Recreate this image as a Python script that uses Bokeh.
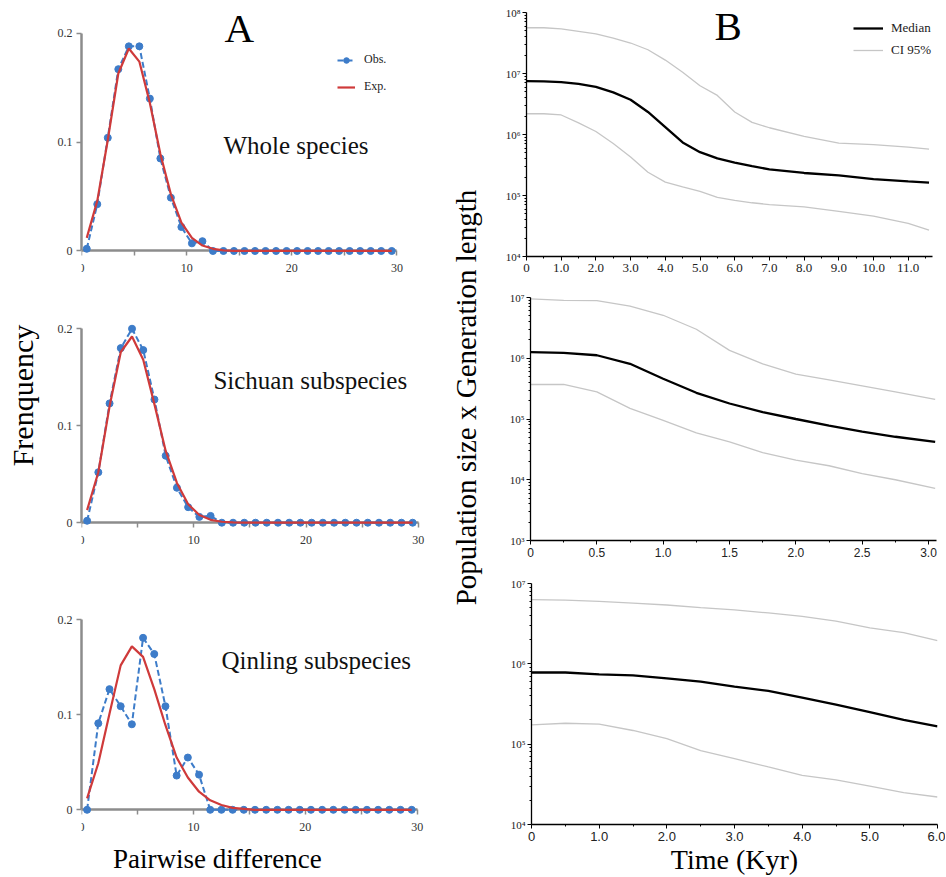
import math
from bokeh.plotting import figure
from bokeh.models import Range1d, Label, Legend, LegendItem, FixedTicker, CustomJSTickFormatter
from bokeh.layouts import row, column
from bokeh.embed import file_html
from bokeh.resources import INLINE

SERIF = "Liberation Serif"
SANS = "Liberation Sans"
BLUE = "#3d7cc9"
RED = "#cf3a3a"
AXGRAY = "#8c8c8c"
CIGRAY = "#c6c6c6"

# ---------------- Panel A data (mismatch distributions) ----------------
pairwise_diff = [0.5, 1.5, 2.5, 3.5, 4.5, 5.5, 6.5, 7.5, 8.5, 9.5,
                 10.5, 11.5, 12.5, 13.5, 14.5, 15.5, 16.5, 17.5, 18.5, 19.5,
                 20.5, 21.5, 22.5, 23.5, 24.5, 25.5, 26.5, 27.5, 28.5, 29.5]

whole_obs = [0.002, 0.043, 0.104, 0.167, 0.188, 0.188, 0.140, 0.085, 0.049, 0.022,
             0.007, 0.009, 0.0, 0.0, 0.0, 0.0, 0.0, 0.0, 0.0, 0.0,
             0.0, 0.0, 0.0, 0.0, 0.0, 0.0, 0.0, 0.0, 0.0, 0.0]
whole_exp = [0.012, 0.046, 0.102, 0.163, 0.186, 0.174, 0.136, 0.089, 0.052, 0.026,
             0.012, 0.005, 0.002, 0.0005, 0.0, 0.0, 0.0, 0.0, 0.0, 0.0,
             0.0, 0.0, 0.0, 0.0, 0.0, 0.0, 0.0, 0.0, 0.0, 0.0]

sichuan_obs = [0.002, 0.052, 0.123, 0.180, 0.200, 0.178, 0.127, 0.069, 0.036, 0.016,
               0.006, 0.007, 0.0, 0.0, 0.0, 0.0, 0.0, 0.0, 0.0, 0.0,
               0.0, 0.0, 0.0, 0.0, 0.0, 0.0, 0.0, 0.0, 0.0, 0.0]
sichuan_exp = [0.013, 0.052, 0.120, 0.176, 0.192, 0.168, 0.122, 0.074, 0.041, 0.019,
               0.008, 0.003, 0.001, 0.0003, 0.0, 0.0, 0.0, 0.0, 0.0, 0.0,
               0.0, 0.0, 0.0, 0.0, 0.0, 0.0, 0.0, 0.0, 0.0, 0.0]

qinling_obs = [0.0, 0.091, 0.127, 0.109, 0.090, 0.181, 0.164, 0.109, 0.036, 0.055,
               0.037, 0.0, 0.0, 0.0, 0.0, 0.0, 0.0, 0.0, 0.0, 0.0,
               0.0, 0.0, 0.0, 0.0, 0.0, 0.0, 0.0, 0.0, 0.0, 0.0]
qinling_exp = [0.012, 0.049, 0.101, 0.152, 0.172, 0.161, 0.127, 0.089, 0.055, 0.034,
               0.019, 0.010, 0.005, 0.002, 0.001, 0.0, 0.0, 0.0, 0.0, 0.0,
               0.0, 0.0, 0.0, 0.0, 0.0, 0.0, 0.0, 0.0, 0.0, 0.0]

# ---------------- Panel B data (Bayesian skyline plots) ----------------
b1_time = [0, 0.5, 1.0, 1.5, 2.0, 2.5, 3.0, 3.5, 4.0, 4.5, 5.0, 5.5, 6.0, 6.5,
           7.0, 8.0, 9.0, 10.0, 11.0, 11.6]
b1_median = [7.48e6, 7.45e6, 7.24e6, 6.76e6, 6.03e6, 4.9e6, 3.72e6, 2.34e6, 1.32e6, 7.41e5,
             5.13e5, 4.07e5, 3.47e5, 3.02e5, 2.69e5, 2.34e5, 2.14e5, 1.86e5, 1.70e5, 1.62e5]
b1_upper = [5.62e7, 5.62e7, 5.37e7, 4.9e7, 4.47e7, 3.8e7, 3.16e7, 2.45e7, 1.66e7, 1.05e7,
            6.3e6, 4.37e6, 2.34e6, 1.58e6, 1.29e6, 9.3e5, 7.2e5, 6.8e5, 6.2e5, 5.75e5]
b1_lower = [2.19e6, 2.19e6, 2.09e6, 1.55e6, 1.12e6, 7.1e5, 4.27e5, 2.4e5, 1.66e5, 1.38e5,
            1.17e5, 9.3e4, 8.3e4, 7.6e4, 7.1e4, 6.5e4, 5.5e4, 4.6e4, 3.5e4, 2.7e4]

b2_time = [0, 0.25, 0.5, 0.75, 1.0, 1.25, 1.5, 1.75, 2.0, 2.25, 2.5, 2.75, 3.05]
b2_median = [1.26e6, 1.23e6, 1.12e6, 8.1e5, 4.6e5, 2.7e5, 1.8e5, 1.3e5, 1.0e5, 7.8e4, 6.2e4, 5.1e4, 4.2e4]
b2_upper = [9.5e6, 9.0e6, 8.9e6, 7.2e6, 5.1e6, 3.0e6, 1.35e6, 8.1e5, 5.5e5, 4.4e5, 3.5e5, 2.8e5, 2.1e5]
b2_lower = [3.7e5, 3.7e5, 2.8e5, 1.5e5, 9.5e4, 5.9e4, 4.2e4, 2.8e4, 2.1e4, 1.7e4, 1.26e4, 1.0e4, 7.2e3]

b3_time = [0, 0.5, 1.0, 1.5, 2.0, 2.5, 3.0, 3.5, 4.0, 4.5, 5.0, 5.5, 6.0]
b3_median = [7.8e5, 7.8e5, 7.4e5, 7.2e5, 6.6e5, 6.0e5, 5.2e5, 4.6e5, 3.8e5, 3.1e5, 2.5e5, 2.0e5, 1.66e5]
b3_upper = [6.3e6, 6.2e6, 6.0e6, 5.7e6, 5.4e6, 5.0e6, 4.7e6, 4.3e6, 3.9e6, 3.4e6, 2.8e6, 2.45e6, 1.95e6]
b3_lower = [1.74e5, 1.82e5, 1.78e5, 1.48e5, 1.17e5, 8.3e4, 6.6e4, 5.2e4, 4.1e4, 3.6e4, 3.0e4, 2.5e4, 2.2e4]

TOTAL_H = 876
FQ_W = 48
LEFT_COL_W = 392
MID_W = 55
RIGHT_COL_W = 450

SUP_CODE = """
const sup = {"0":"⁰","1":"¹","2":"²","3":"³","4":"⁴","5":"⁵","6":"⁶","7":"⁷","8":"⁸","9":"⁹","-":"⁻"};
const e = Math.round(Math.log10(tick));
return "10" + String(e).split("").map(c => sup[c]).join("");
"""


def blank(p):
    p.outline_line_color = None
    for g in p.grid:
        g.visible = False


def make_left(obs, exp, frame_w, top, frame_h, y_start, y_end, subtitle, sx, sy):
    p = figure(frame_width=frame_w, frame_height=frame_h,
               min_border_left=33, min_border_right=LEFT_COL_W - 33 - frame_w,
               min_border_top=top, min_border_bottom=0,
               x_range=Range1d(0, 31), y_range=Range1d(y_start, y_end),
               output_backend="svg", toolbar_location=None)
    blank(p)
    xa = p.xaxis[0]
    ya = p.yaxis[0]
    for a in (xa, ya):
        a.axis_line_color = AXGRAY
        a.axis_line_width = 2.5
        a.major_tick_line_color = AXGRAY
        a.major_tick_line_width = 1.5
        a.minor_tick_line_color = AXGRAY
        a.minor_tick_line_width = 1.5
        a.major_tick_in = 0
        a.major_tick_out = 5
        a.minor_tick_in = 0
        a.minor_tick_out = 5
        a.major_label_text_font = SERIF
        a.major_label_text_font_size = "12px"
        a.major_label_text_color = "#333333"
    xa.ticker = FixedTicker(ticks=[0, 10, 20, 30], minor_ticks=[5, 15, 25])
    xa.fixed_location = 0
    xa.bounds = (0, 30)
    xa.major_label_standoff = 8
    ya.ticker = FixedTicker(ticks=[0, 0.1, 0.2], minor_ticks=[])
    ya.bounds = (0, 0.2)
    ya.major_label_standoff = 4
    ya.formatter = CustomJSTickFormatter(code="return tick == 0 ? '0' : tick.toFixed(1);")

    bl = p.line(pairwise_diff, obs, line_color=BLUE, line_width=2, line_dash="6 3", level="overlay")
    bs = p.scatter(pairwise_diff, obs, marker="circle", size=7, fill_color=BLUE, line_color=BLUE,
                   level="overlay")
    rl = p.line(pairwise_diff, exp, line_color=RED, line_width=2.2, level="overlay")

    p.add_layout(Label(x=sx, y=sy, text=subtitle, text_font=SERIF, text_font_size="25px",
                       text_align="left", text_baseline="alphabetic", text_color="#111111"))
    return p, bl, bs, rl


def make_right(t, med, lo, hi, xmax, ymin, ymax, mbl, top, frame_h, bottom,
               majors, minors, xfont, xfsize):
    p = figure(frame_width=406, frame_height=frame_h,
               min_border_left=mbl, min_border_right=RIGHT_COL_W - mbl - 406,
               min_border_top=top, min_border_bottom=bottom,
               x_range=Range1d(0, xmax), y_range=Range1d(ymin, ymax), y_axis_type="log",
               output_backend="svg", toolbar_location=None)
    blank(p)
    xa = p.xaxis[0]
    ya = p.yaxis[0]
    for a in (xa, ya):
        a.axis_line_color = "black"
        a.axis_line_width = 1.3
        a.major_tick_line_color = "black"
        a.minor_tick_line_color = "black"
        a.major_tick_in = 0
        a.major_tick_out = 4
        a.minor_tick_in = 0
        a.minor_tick_out = 2
        a.major_label_text_color = "#222222"
    lo_e = int(round(math.log10(ymin)))
    hi_e = int(round(math.log10(ymax)))
    decades = [10.0 ** e for e in range(lo_e, hi_e + 1)]
    minor_dec = [k * 10.0 ** e for e in range(lo_e, hi_e) for k in range(2, 10)]
    ya.ticker = FixedTicker(ticks=decades, minor_ticks=minor_dec)
    ya.formatter = CustomJSTickFormatter(code=SUP_CODE)
    ya.major_label_text_font = SERIF
    ya.major_label_text_font_size = "11px"
    ya.major_label_standoff = 2
    xa.ticker = FixedTicker(ticks=majors, minor_ticks=minors)
    xa.formatter = CustomJSTickFormatter(code="return tick == 0 ? '0' : tick.toFixed(1);")
    xa.major_label_text_font = xfont
    xa.major_label_text_font_size = xfsize
    xa.major_label_standoff = 3

    ru = p.line(t, hi, line_color=CIGRAY, line_width=1.3)
    p.line(t, lo, line_color=CIGRAY, line_width=1.3)
    rm = p.line(t, med, line_color="black", line_width=2.3)
    return p, rm, ru


def make_text_fig(w, h):
    p = figure(frame_width=w, frame_height=h, min_border=0,
               x_range=Range1d(0, w), y_range=Range1d(0, h),
               x_axis_location=None, y_axis_location=None,
               output_backend="svg", toolbar_location=None)
    blank(p)
    return p


# ---- left column (frames stacked edge to edge; x axes fixed at y=0) ----
L1, bl, bs, rl = make_left(whole_obs, whole_exp, 326, 11, 289, -0.0455, 0.22,
                           "Whole species", 13.5, 0.0969)
L2, _, _, _ = make_left(sichuan_obs, sichuan_exp, 348, 0, 290, -0.0699, 0.2291,
                        "Sichuan subspecies", 11.75, 0.1463)
L3, _, _, _ = make_left(qinling_obs, qinling_exp, 347, 0, 286, -0.0702, 0.2308,
                        "Qinling subspecies", 12.5, 0.1567)

L1.add_layout(Label(x=15.0, y=0.2044, text="A", text_font=SERIF, text_font_size="41px",
                    text_align="center", text_baseline="alphabetic", text_color="black"))
L3.add_layout(Label(x=12.14, y=-0.0515, text="Pairwise difference", text_font=SERIF,
                    text_font_size="27px", text_align="center", text_baseline="alphabetic",
                    text_color="black"))

legA = Legend(items=[LegendItem(label="Obs.", renderers=[bl, bs]),
                     LegendItem(label="Exp.", renderers=[rl])],
              location=(256, 206), margin=0, padding=0, spacing=12,
              glyph_width=18, glyph_height=14, label_height=14, label_standoff=9,
              label_text_font=SERIF, label_text_font_size="12px", label_text_color="#222222",
              border_line_color=None, background_fill_alpha=0)
L1.add_layout(legA)

# ---- right column ----
R1, rm1, ru1 = make_right(b1_time, b1_median, b1_lower, b1_upper, 11.7, 1e4, 1e8, 31, 12, 244, 30,
                          [0, 1, 2, 3, 4, 5, 6, 7, 8, 9, 10, 11],
                          [0.5, 1.5, 2.5, 3.5, 4.5, 5.5, 6.5, 7.5, 8.5, 9.5, 10.5, 11.5],
                          SERIF, "13px")
R2, _, _ = make_right(b2_time, b2_median, b2_lower, b2_upper, 3.06, 1e3, 1e7, 35, 11, 243, 30,
                      [0, 0.5, 1.0, 1.5, 2.0, 2.5, 3.0],
                      [0.25, 0.75, 1.25, 1.75, 2.25, 2.75],
                      SANS, "12px")
R3_BOTTOM = TOTAL_H - (12 + 244 + 30) - (11 + 243 + 30) - (13 + 241)
R3, _, _ = make_right(b3_time, b3_median, b3_lower, b3_upper, 6.0, 1e4, 1e7, 36, 13, 241, R3_BOTTOM,
                      [0, 1, 2, 3, 4, 5, 6],
                      [0.5, 1.5, 2.5, 3.5, 4.5, 5.5],
                      SANS, "13px")
R3.xaxis[0].axis_label = "Time (Kyr)"
R3.xaxis[0].axis_label_text_font = SERIF
R3.xaxis[0].axis_label_text_font_size = "28px"
R3.xaxis[0].axis_label_text_font_style = "normal"
R3.xaxis[0].axis_label_text_color = "black"
R3.xaxis[0].axis_label_standoff = 0

R1.add_layout(Label(x=5.81, y=6.1e7, text="B", text_font=SERIF, text_font_size="41px",
                    text_align="center", text_baseline="alphabetic", text_color="black"))

legB = Legend(items=[LegendItem(label="Median", renderers=[rm1]),
                     LegendItem(label="CI 95%", renderers=[ru1])],
              location=(327, 198), margin=0, padding=0, spacing=6,
              glyph_width=30, glyph_height=12, label_height=12, label_standoff=8,
              label_text_font=SERIF, label_text_font_size="13px", label_text_color="#222222",
              border_line_color=None, background_fill_alpha=0)
R1.add_layout(legB)

# ---- vertical text strips ----
FQ = make_text_fig(FQ_W, TOTAL_H)
FQ.add_layout(Label(x=21.5, y=481, text="Frenquency", angle=math.pi / 2, text_font=SERIF,
                    text_font_size="30px", text_align="center", text_baseline="alphabetic",
                    text_color="black"))
MID = make_text_fig(MID_W, TOTAL_H)
MID.add_layout(Label(x=25, y=479, text="Population size x Generation length", angle=math.pi / 2,
                     text_font=SERIF, text_font_size="29px", text_align="center",
                     text_baseline="alphabetic", text_color="black"))

left_col = column(row(L1), row(L2), row(L3), spacing=0)
right_col = column(row(R1), row(R2), row(R3), spacing=0)
layout = row(FQ, left_col, MID, right_col, spacing=0)

with open("out.html", "w") as f:
    f.write(file_html(layout, INLINE))
